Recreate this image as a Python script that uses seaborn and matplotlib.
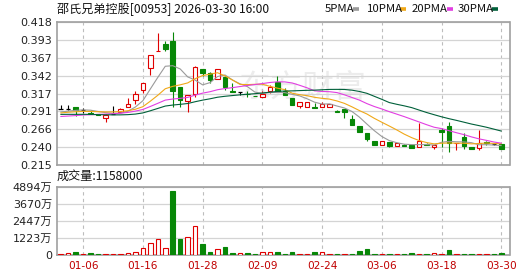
import numpy as np
import pandas as pd
import matplotlib
matplotlib.use("Agg")
import matplotlib.pyplot as plt
from matplotlib.lines import Line2D
import seaborn as sns

# ---------------- data ----------------
dates = ["12-31", "01-02", "01-05", "01-06", "01-07", "01-08", "01-09", "01-12", "01-13", "01-14",
         "01-15", "01-16", "01-19", "01-20", "01-21", "01-22", "01-23", "01-26", "01-27", "01-28",
         "01-29", "01-30", "02-02", "02-03", "02-04", "02-05", "02-06", "02-09", "02-10", "02-11",
         "02-12", "02-13", "02-16", "02-20", "02-23", "02-24", "02-25", "02-26", "02-27", "03-02",
         "03-03", "03-04", "03-05", "03-06", "03-09", "03-10", "03-11", "03-12", "03-13", "03-16",
         "03-17", "03-18", "03-19", "03-20", "03-23", "03-24", "03-25", "03-26", "03-27", "03-30"]

opens = [0.295, 0.295, 0.297, 0.2935, 0.289, 0.287, 0.282, 0.288, 0.290, 0.298,
         0.307, 0.322, 0.3525, 0.376, 0.386, 0.391, 0.326, 0.306, 0.316, 0.351,
         0.345, 0.337, 0.3405, 0.320, 0.319, 0.3165, 0.313, 0.311, 0.320, 0.3325,
         0.320, 0.310, 0.299, 0.297, 0.297, 0.298, 0.298, 0.292, 0.294, 0.281,
         0.271, 0.2606, 0.250, 0.243, 0.248, 0.2427, 0.2441, 0.244, 0.241, 0.2455,
         0.2403, 0.2653, 0.271, 0.2465, 0.255, 0.2408, 0.2394, 0.2476, 0.2445, 0.245]
highs = [0.300, 0.300, 0.297, 0.296, 0.293, 0.288, 0.287, 0.2995, 0.296, 0.310,
         0.320, 0.331, 0.371, 0.402, 0.391, 0.403, 0.326, 0.315, 0.355, 0.351,
         0.347, 0.351, 0.341, 0.331, 0.319, 0.320, 0.313, 0.320, 0.329, 0.3415,
         0.324, 0.310, 0.305, 0.305, 0.3035, 0.305, 0.3015, 0.2925, 0.294, 0.2865,
         0.271, 0.2606, 0.250, 0.250, 0.248, 0.2465, 0.2445, 0.244, 0.2747, 0.2465,
         0.2432, 0.2676, 0.276, 0.247, 0.2606, 0.2408, 0.2643, 0.2497, 0.245, 0.245]
lows = [0.294, 0.293, 0.284, 0.289, 0.287, 0.286, 0.276, 0.287, 0.290, 0.298,
        0.3015, 0.317, 0.343, 0.376, 0.377, 0.298, 0.298, 0.291, 0.312, 0.341,
        0.331, 0.337, 0.322, 0.319, 0.315, 0.312, 0.3125, 0.311, 0.317, 0.320,
        0.3146, 0.3005, 0.296, 0.297, 0.296, 0.298, 0.298, 0.290, 0.282, 0.2715,
        0.2615, 0.2488, 0.243, 0.243, 0.2403, 0.2427, 0.2418, 0.240, 0.241, 0.243,
        0.2385, 0.2403, 0.2338, 0.236, 0.2385, 0.238, 0.2361, 0.2432, 0.2435, 0.238]
closes = [0.295, 0.295, 0.293, 0.2935, 0.288, 0.286, 0.2865, 0.288, 0.295, 0.3015,
          0.316, 0.331, 0.371, 0.377, 0.380, 0.320, 0.308, 0.315, 0.3545, 0.346,
          0.336, 0.351, 0.326, 0.319, 0.319, 0.316, 0.3125, 0.316, 0.3255, 0.320,
          0.3146, 0.3005, 0.305, 0.305, 0.296, 0.3015, 0.3015, 0.290, 0.291, 0.2715,
          0.2615, 0.2526, 0.243, 0.250, 0.2427, 0.2465, 0.242, 0.240, 0.250, 0.243,
          0.2432, 0.2615, 0.2465, 0.247, 0.242, 0.238, 0.2465, 0.2472, 0.2445, 0.238]
# volume in 万股
volumes = [70, 170, 180, 60, 130, 40, 40, 80, 40, 160,
           180, 490, 880, 1170, 535, 4560, 1120, 1320, 2050, 820,
           200, 400, 540, 130, 120, 170, 50, 190, 240, 240,
           70, 240, 50, 50, 240, 190, 50, 40, 80, 50,
           260, 395, 50, 40, 40, 40, 40, 140, 40, 40,
           160, 50, 390, 40, 50, 40, 40, 40, 40, 115.8]
# closes of the 29 sessions before the window (needed for the moving averages)
prior_closes = [0.293, 0.294, 0.292, 0.293, 0.295, 0.292, 0.293, 0.294, 0.292, 0.292,
                0.282, 0.280, 0.278, 0.279, 0.277, 0.278, 0.280, 0.279, 0.278, 0.279,
                0.285, 0.286, 0.288, 0.289, 0.290, 0.289, 0.288, 0.290, 0.290]

tick_labels = ["01-06", "01-16", "01-28", "02-09", "02-24", "03-06", "03-18", "03-30"]
price_tick_labels = ["0.418", "0.393", "0.367", "0.342", "0.317", "0.291", "0.266", "0.240", "0.215"]
vol_tick_labels = ["0", "1223万", "2447万", "3670万", "4894万"]
ma_periods = [5, 10, 20, 30]
ma_names = ["5PMA", "10PMA", "20PMA", "30PMA"]
last_volume_text = "成交量:1158000"
title_text = "邵氏兄弟控股[00953] 2026-03-30 16:00"

# ---------------- style ----------------
sns.set_style("white")
plt.rcParams['font.family'] = ['DejaVu Sans', 'Noto Sans CJK SC']
RED = '#e00000'
GREEN = '#078707'
MA_COLORS = ['#9a9a9a', '#f0a818', '#e23ee2', '#00603a']
FRAME = '#a0a0a0'
GRID = '#d4d4d4'
W, H = 530, 276

fig = plt.figure(figsize=(W / 100, H / 100), dpi=100)
ax = fig.add_axes([57 / W, (H - 165.3) / H, 452.5 / W, 143.6 / H])
axv = fig.add_axes([57 / W, (H - 255) / H, 452.5 / W, 68.3 / H])

o = np.array(opens); h = np.array(highs); l = np.array(lows); c = np.array(closes)
v = np.array(volumes)
x = np.arange(len(dates))
prev_c = np.concatenate([[prior_closes[-1]], c[:-1]])

bw = 0.6
# wicks
wick_cols = [RED if cc > oo else (GREEN if cc < oo else 'black') for oo, cc in zip(o, c)]
ax.vlines(x, l, h, colors=wick_cols, linewidth=0.8, zorder=2)
up = c > o
dn = c < o
fl = c == o
ax.bar(x[up], (c - o)[up], bottom=o[up], width=bw, facecolor='white',
       edgecolor=RED, linewidth=0.8, zorder=3)
ax.bar(x[dn], (o - c)[dn], bottom=c[dn], width=bw, facecolor=GREEN,
       edgecolor=GREEN, linewidth=0.8, zorder=3)
ax.hlines(o[fl], x[fl] - bw / 2, x[fl] + bw / 2, colors='black', linewidth=0.9, zorder=3)

# moving averages
all_c = pd.Series(prior_closes + closes)
for n, col in zip(ma_periods, MA_COLORS):
    ma = all_c.rolling(n).mean().iloc[len(prior_closes):].to_numpy()
    sns.lineplot(x=x, y=ma, color=col, linewidth=0.8, ax=ax, zorder=4, legend=False)

# watermark
ax.text((303 - 57) / 452.5, (165.3 - 89) / 143.6, "东方财富", transform=ax.transAxes,
        fontsize=23, color='#ececec', ha='center', va='center', zorder=0.5,
        family=['Noto Sans CJK SC'])

# volume bars (colour by change vs previous close)
vup = c >= prev_c
axv.bar(x[vup], v[vup], width=bw, facecolor='white', edgecolor=RED, linewidth=0.8, zorder=3)
axv.bar(x[~vup], v[~vup], width=bw, facecolor=GREEN, edgecolor=GREEN, linewidth=0.8, zorder=3)

# axes cosmetics
tick_pos = [dates.index(t) for t in tick_labels]
for a in (ax, axv):
    a.set_xlim(-0.5, 60.1)
    a.set_xticks(tick_pos)
    a.set_xlabel('')
    a.set_ylabel('')
    a.tick_params(length=0, labelsize=8, pad=3.5, colors='#222222')
    for s in a.spines.values():
        s.set_color(FRAME)
        s.set_linewidth(1.2)
    a.grid(axis='y', color=GRID, linewidth=0.9, linestyle='-')
    a.grid(axis='x', color='#bdbdbd', linewidth=0.8, linestyle=(0, (3, 3)))
    a.set_axisbelow(True)

ax.set_ylim(0.215, 0.418)
ax.set_yticks(np.linspace(0.215, 0.418, 9)[::-1])
ax.set_yticklabels(price_tick_labels)
ax.set_xticklabels([])

axv.set_ylim(0, 4894)
axv.set_yticks(np.linspace(0, 4894, 5))
axv.set_yticklabels(vol_tick_labels)
axv.set_xticklabels(tick_labels, color='#c00000')
axv.tick_params(axis='x', labelcolor='#c00000', labelsize=7.6, pad=4)

# title and legend
cjk = ['Noto Sans CJK SC']
fig.text(57 / W, 1 - 9 / H, title_text, fontsize=8.7, va='center', ha='left',
         family=cjk, color='#111111')
leg_x = [325, 367, 412, 458]
dash_x = [353, 400, 447, 492]
for name, col, tx, dx in zip(ma_names, MA_COLORS, leg_x, dash_x):
    fig.text(tx / W, 1 - 9 / H, name, fontsize=8.2, va='center', ha='left', family=cjk,
             color='#111111')
    fig.add_artist(Line2D([dx / W, (dx + 5.5) / W], [1 - 9 / H, 1 - 9 / H], color=col,
                          linewidth=2.6, solid_capstyle='butt'))
fig.text(57 / W, 1 - 176.5 / H, last_volume_text, fontsize=8.7, va='center', ha='left',
         family=cjk, color='#111111')

fig.savefig("out.png", dpi=100)
